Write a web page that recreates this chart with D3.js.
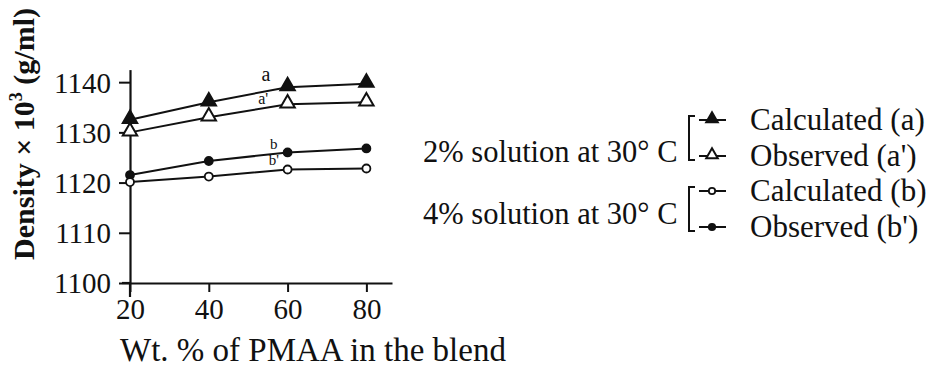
<!DOCTYPE html>
<html>
<head>
<meta charset="utf-8">
<script src="https://cdn.jsdelivr.net/npm/d3@7"></script>
<style>
  html, body { margin: 0; padding: 0; background: #fff; }
  svg { display: block; }
  text { font-family: "Liberation Serif", "Times New Roman", serif; fill: #111; }
</style>
</head>
<body>
<svg id="chart" width="947" height="373"></svg>
<script>
// Blend composition (wt. % PMAA)
const wtPercent = [20, 40, 60, 80];
// Density × 10^3 (g/ml)
const calc2 = [1132.5, 1136.0, 1139.0, 1139.7];   // a  : 2% solution, calculated
const obs2  = [1130.0, 1133.0, 1135.6, 1136.0];   // a' : 2% solution, observed
const calc4 = [1121.5, 1124.3, 1126.0, 1126.8];   // b  : 4% solution (upper curve)
const obs4  = [1120.1, 1121.2, 1122.6, 1122.8];   // b' : 4% solution (lower curve)
const xTicks = [20, 40, 60, 80];
const yTicks = [1100, 1110, 1120, 1130, 1140];

const svg = d3.select("#chart");
const ink = "#111";
const serif = "'Liberation Serif', 'Times New Roman', serif";

const x = d3.scaleLinear().domain([20, 86.5]).range([130, 392]);
const y = d3.scaleLinear().domain([1100, 1142.5]).range([283, 69.6]);

// Axes
const gx = svg.append("g").attr("transform", `translate(0,${y(1100)})`)
  .call(d3.axisBottom(x).tickValues(xTicks).tickFormat(d3.format("d"))
    .tickSize(9).tickSizeOuter(0).tickPadding(5));
const gy = svg.append("g").attr("transform", `translate(${x(20)},0)`)
  .call(d3.axisLeft(y).tickValues(yTicks).tickFormat(d3.format("d"))
    .tickSize(11).tickSizeOuter(0).tickPadding(8));

[gx, gy].forEach(g => {
  g.select(".domain").attr("stroke", ink).attr("stroke-width", 2.2);
  g.selectAll(".tick line").attr("stroke", ink).attr("stroke-width", 2);
  g.selectAll(".tick text")
    .attr("font-family", serif)
    .attr("font-size", 29).attr("fill", ink);
});
gx.selectAll(".tick text").attr("dy", "0.76em");
gy.selectAll(".tick text").attr("dy", "0.34em");
// short stubs of the axes past the origin
svg.append("line").attr("x1", x(20)).attr("x2", x(20)).attr("y1", y(1100)).attr("y2", y(1100) + 14)
  .attr("stroke", ink).attr("stroke-width", 2.2);
svg.append("line").attr("x1", x(20) - 8).attr("x2", x(20)).attr("y1", y(1100)).attr("y2", y(1100))
  .attr("stroke", ink).attr("stroke-width", 2.2);

// Axis titles
svg.append("text")
  .attr("x", 120).attr("y", 361)
  .attr("font-size", 33)
  .text("Wt. % of PMAA in the blend");

svg.append("text")
  .attr("transform", "translate(34,134) rotate(-90)")
  .attr("text-anchor", "middle")
  .attr("font-size", 30).attr("font-weight", "bold")
  .html("Density × 10<tspan dy='-12' font-size='18'>3</tspan><tspan dy='12'> (g/ml)</tspan>");

// Series
const series = [
  { values: calc2, marker: "triFilled" },
  { values: obs2,  marker: "triOpen" },
  { values: calc4, marker: "dotFilled" },
  { values: obs4,  marker: "dotOpen" }
];

const line = d3.line().x(d => x(d[0])).y(d => y(d[1]));
const triSym = d3.symbol().type(d3.symbolTriangle);

function drawMarker(g, kind, px, py, scale) {
  const s = scale || 1;
  if (kind === "triFilled" || kind === "triOpen") {
    g.append("path")
      .attr("d", triSym.size(90 * s * s)())
      .attr("transform", `translate(${px},${py - 1})`)
      .attr("fill", kind === "triFilled" ? ink : "#fff")
      .attr("stroke", ink).attr("stroke-width", 2);
  } else {
    g.append("circle").attr("cx", px).attr("cy", py).attr("r", 4 * s)
      .attr("fill", kind === "dotFilled" ? ink : "#fff")
      .attr("stroke", ink).attr("stroke-width", 1.8);
  }
}

series.forEach(s => {
  const pts = wtPercent.map((w, i) => [w, s.values[i]]);
  const g = svg.append("g");
  g.append("path").attr("d", line(pts)).attr("fill", "none")
    .attr("stroke", ink).attr("stroke-width", 2);
  pts.forEach(p => drawMarker(g, s.marker, x(p[0]), y(p[1])));
});

// Curve labels
const curveLabels = ["a", "a'", "b", "b'"];
const labelAt = [[54.5, 1140.3], [53.8, 1135.6], [56.5, 1126.6], [56.5, 1123.6]];
const labelSize = [20, 16, 15, 15];
curveLabels.forEach((t, i) => {
  svg.append("text")
    .attr("x", x(labelAt[i][0])).attr("y", y(labelAt[i][1]))
    .attr("text-anchor", "middle")
    .attr("font-size", labelSize[i])
    .text(t);
});

// Legend: a group caption, then a bracket joining its two entries
const groupLabels = ["2% solution at 30° C", "4% solution at 30° C"];
const entryLabels = [["Calculated (a)", "Observed (a')"], ["Calculated (b)", "Observed (b')"]];
const entryMarkers = [["triFilled", "triOpen"], ["dotOpen", "dotFilled"]];
const groupBaseline = [162, 224];
const entryBaseline = [[130, 166], [201, 237]];

groupLabels.forEach((lab, gi) => {
  svg.append("text").attr("x", 423).attr("y", groupBaseline[gi])
    .attr("font-size", 30.5).text(lab);
  const rows = entryBaseline[gi].map(b => b - 10);
  const bx = 689;
  svg.append("path")
    .attr("d", `M${bx + 6},${rows[0] - 4} H${bx} V${rows[1] + 4} H${bx + 6}`)
    .attr("fill", "none").attr("stroke", ink).attr("stroke-width", 2);
  rows.forEach((ey, ei) => {
    svg.append("line").attr("x1", 699).attr("x2", 726).attr("y1", ey).attr("y2", ey)
      .attr("stroke", ink).attr("stroke-width", 2);
    drawMarker(svg, entryMarkers[gi][ei], 712, ey, 0.8);
    svg.append("text").attr("x", 750).attr("y", entryBaseline[gi][ei])
      .attr("font-size", 31).text(entryLabels[gi][ei]);
  });
});
</script>
</body>
</html>
